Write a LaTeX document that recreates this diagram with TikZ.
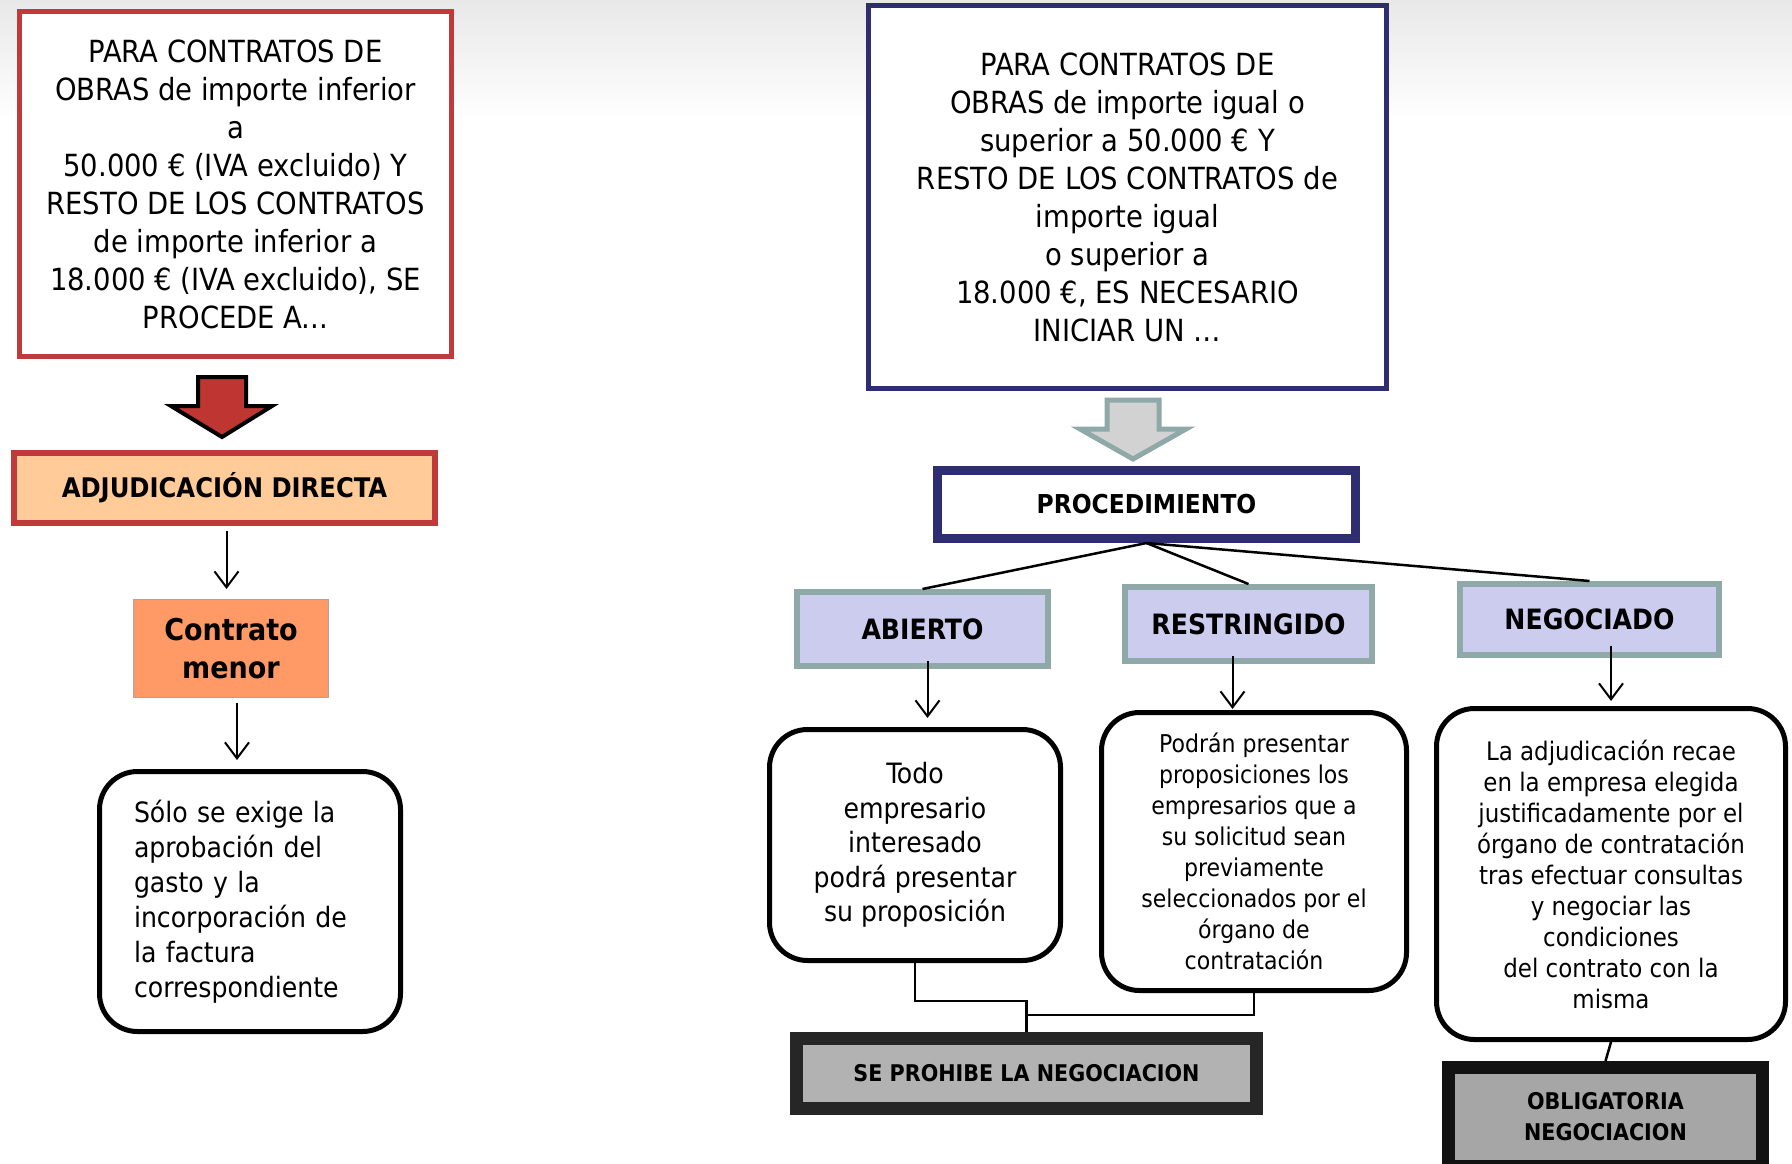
\documentclass[tikz,border=0pt]{standalone}
\usepackage{fontspec}
\setmainfont{DejaVu Sans Condensed}
\usetikzlibrary{arrows.meta, calc}
\definecolor{rojoborde}{RGB}{192,57,59}
\definecolor{rojoflecha}{RGB}{190,53,50}
\definecolor{melocoton}{RGB}{255,204,153}
\definecolor{naranja}{RGB}{255,153,102}
\definecolor{marino}{RGB}{46,45,114}
\definecolor{grisverde}{RGB}{143,168,168}
\definecolor{lavanda}{RGB}{204,204,238}
\definecolor{grisclaro}{RGB}{210,210,210}

\begin{document}
\begin{tikzpicture}[x=1pt, y=-1pt,
    marco/.style={draw, inner sep=0pt, align=center},
    aviso/.style={marco, fill=white, line width=5pt, font=\fontsize{30.5}{38}\selectfont},
    tipo/.style={marco, fill=lavanda, draw=grisverde, line width=6pt, font=\bfseries\fontsize{28}{34}\selectfont},
    nota/.style={marco, fill=white, line width=5pt, rounded corners=38pt},
    final/.style={marco, line width=13pt, font=\bfseries\fontsize{23}{31}\selectfont},
    arr/.style={-{Straight Barb[length=16pt, width=24pt]}, line width=2pt},
    enlace/.style={line width=2.5pt}
]
\useasboundingbox (0,0) rectangle (1792,1163);
\fill[top color=black!9, bottom color=white] (0,0) rectangle (1792,120);

\node[aviso, draw=rojoborde, minimum width=432, minimum height=345] (inferior) at (235.5,184)
  {PARA CONTRATOS DE\\OBRAS de importe inferior\\a\\50.000 € (IVA excluido) Y\\RESTO DE LOS CONTRATOS\\de importe inferior a\\18.000 € (IVA excluido), SE\\PROCEDE A...};
\filldraw[fill=rojoflecha, draw=black, line width=4pt, line join=miter]
  (198,377) -- (246,377) -- (246,406) -- (272,406) -- (222,437) -- (171,406) -- (198,406) -- cycle;
\node[marco, draw=rojoborde, fill=melocoton, line width=6pt, minimum width=421, minimum height=70,
  font=\bfseries\fontsize{27}{32}\selectfont] (directa) at (224.5,488) {ADJUDICACIÓN DIRECTA};
\node[marco, draw=black!35, fill=naranja, line width=1pt, minimum width=195, minimum height=98,
  font=\bfseries\fontsize{30}{38}\selectfont] (menor) at (231,648.5) {Contrato\\menor};
\node[nota, minimum width=301, minimum height=260, text width=232, align=left,
  font=\fontsize{28}{35}\selectfont] (solo) at (250,901.5)
  {Sólo se exige la\\aprobación del\\gasto y la\\incorporación de\\la factura\\correspondiente};

\draw[arr, shorten <=5pt, shorten >=10pt] ([xshift=2pt]directa.south) -- ([xshift=2pt]directa.south |- menor.north);
\draw[arr, shorten <=5pt, shorten >=9pt] ([xshift=6pt]menor.south) -- ([xshift=6pt]menor.south |- solo.north);

\node[aviso, draw=marino, minimum width=518, minimum height=383] (superior) at (1127.5,197)
  {PARA CONTRATOS DE\\OBRAS de importe igual o\\superior a 50.000 € Y\\RESTO DE LOS CONTRATOS de\\importe igual\\o superior a\\18.000 €, ES NECESARIO\\INICIAR UN …};
\filldraw[fill=grisclaro, draw=grisverde, line width=5pt, line join=miter]
  (1107,400) -- (1159,400) -- (1159,429) -- (1186,429) -- (1133,459) -- (1080,429) -- (1107,429) -- cycle;
\node[marco, draw=marino, fill=white, line width=9pt, minimum width=418, minimum height=68,
  font=\bfseries\fontsize{26}{32}\selectfont] (proc) at (1146.5,504.5) {PROCEDIMIENTO};

\node[tipo, minimum width=251, minimum height=74] (abierto) at (922.5,629) {ABIERTO};
\node[tipo, minimum width=247, minimum height=74] (restringido) at (1248.5,624) {RESTRINGIDO};
\node[tipo, minimum width=259, minimum height=71] (negociado) at (1589.5,619.5) {NEGOCIADO};

\draw[enlace] (proc.south) -- (abierto.north);
\draw[enlace] (proc.south) -- (restringido.north);
\draw[enlace] (proc.south) -- (negociado.north);

\node[nota, minimum width=291, minimum height=231, font=\fontsize{28}{34.5}\selectfont] (todo) at (915,845)
  {Todo\\empresario\\interesado\\podrá presentar\\su proposición};
\node[nota, minimum width=305, minimum height=278, font=\fontsize{24.5}{31}\selectfont] (podran) at (1254,851.5)
  {Podrán presentar\\proposiciones los\\empresarios que a\\su solicitud sean\\previamente\\seleccionados por el\\órgano de\\contratación};
\node[nota, minimum width=349, minimum height=331, font=\fontsize{25.5}{31}\selectfont] (recae) at (1611,874)
  {La adjudicación recae\\en la empresa elegida\\justificadamente por el\\órgano de contratación\\tras efectuar consultas\\y negociar las\\condiciones\\del contrato con la\\misma};

\draw[arr, shorten <=-8pt, shorten >=9pt] ([xshift=5pt]abierto.south) -- ([xshift=5pt]abierto.south |- todo.north);
\draw[arr, shorten <=-8pt, shorten >=1pt] ([xshift=-16pt]restringido.south) -- ([xshift=-16pt]restringido.south |- podran.north);
\draw[arr, shorten <=-12pt, shorten >=5pt] (negociado.south -| recae.north) -- (recae.north);

\node[final, draw=black!85, fill=black!30, minimum width=460, minimum height=70] (prohibe) at (1026.5,1073.5)
  {SE PROHIBE LA NEGOCIACION};
\node[final, draw=black!93, fill=black!35, minimum width=314, minimum height=99] (obliga) at (1605.5,1117)
  {OBLIGATORIA\\NEGOCIACION};

\draw[enlace] (todo.south) -- ++(0,38) -| (prohibe.north);
\draw[enlace] (podran.south) -- ++(0,22) -| (prohibe.north);
\draw[enlace] (recae.south) -- (obliga.north);
\end{tikzpicture}
\end{document}
